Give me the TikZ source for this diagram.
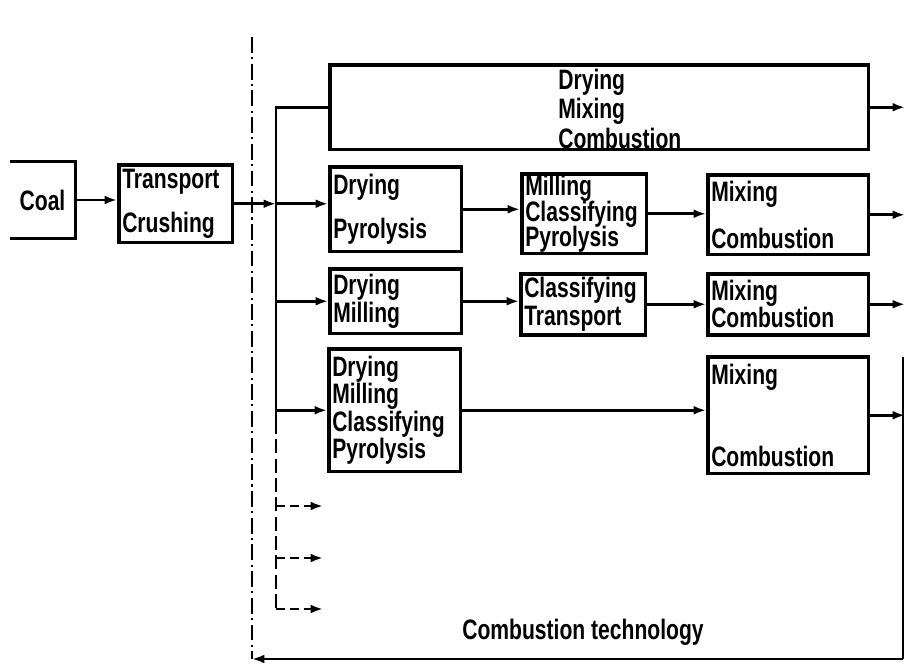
\documentclass[tikz,border=0pt]{standalone}
\usepackage{fontspec}
\setmainfont{Liberation Sans}[FakeStretch=0.75]
\usetikzlibrary{arrows.meta}

\tikzset{
  blk/.style={draw, line width=2pt, anchor=north west, align=left, inner xsep=0.07cm, inner ysep=0pt},
  conn/.style={line width=1.5pt},
  arr/.style={conn, -{Latex[length=7pt,width=5pt]}},
}

\begin{document}
\begin{tikzpicture}[x=0.02cm, y=-0.02cm, every node/.style={font=\fontsize{16pt}{15.5pt}\selectfont\bfseries}]
    \useasboundingbox (0,0) rectangle (906,665);

    % Coordinates (bus, outputs, boundary)
    \coordinate (busmid) at (276,420);
    \coordinate (busend) at (276,612);
    \coordinate (outx) at (905,0);
    \coordinate (fut1) at (323,506);
    \coordinate (fut2) at (323,558);
    \coordinate (fut3) at (323,609);
    \coordinate (bndtop) at (252,37);
    \coordinate (bndbot) at (252,659);
    \coordinate (bndbr) at (903,659);
    \coordinate (bndtr) at (903,357);

    % Nodes (Boxes)
    \node[minimum width=1.30cm, minimum height=1.52cm] (coal) at (42.5,200) {Coal};
    \draw[line width=2pt] (coal.north west) -- (coal.north east) -- (coal.south east) -- (coal.south west);

    \node[blk, text width=2.14cm, minimum height=1.56cm] (trans) at (117,163) {Transport\\[9.5pt]Crushing};

    \node[blk, minimum width=10.78cm, minimum height=1.70cm] (dmcbox) at (328,63) {};
    \node[align=left, inner sep=0pt, anchor=north west] (dmc) at (558,69) {Drying\\[1pt]Mixing\\[1.5pt]Combustion};

    \node[blk, text width=2.50cm, minimum height=1.70cm] (dp) at (328,165) {Drying\\[9pt]Pyrolysis};
    \node[blk, text width=2.36cm, minimum height=1.60cm] (mcp) at (520,172) {Milling\\[-0.8pt]Classifying\\[-0.8pt]Pyrolysis};
    \node[blk, text width=3.08cm, minimum height=1.60cm] (mc2) at (706,173) {Mixing\\[11pt]Combustion};

    \node[blk, text width=2.50cm, minimum height=1.30cm] (dm) at (328,267) {Drying\\Milling};
    \node[blk, text width=2.36cm, minimum height=1.22cm] (ct) at (519,272) {Classifying\\Transport};
    \node[blk, text width=3.08cm, minimum height=1.22cm] (mc3) at (706,272) {Mixing\\Combustion};

    \node[blk, text width=2.50cm, minimum height=2.46cm] (dmcp) at (327,347) {Drying\\Milling\\Classifying\\Pyrolysis};
    \node[blk, text width=3.08cm, minimum height=2.34cm] (mc4) at (706,355) {Mixing\\[31pt]Combustion};

    % Feed
    \draw[arr] (coal.east) -- (coal.east -| trans.west);
    \draw[arr] (trans.east) -- (trans.east -| busend);

    % Bus
    \draw[conn] (dmcbox.west) -| (busmid);
    \draw[conn, dash pattern=on 8pt off 3pt] (busmid) -- (busend);
    \draw[arr] (trans.east -| busend) -- (trans.east -| dp.west);
    \draw[arr] (dm.west -| busend) -- (dm.west);
    \draw[arr] (dmcp.west -| busend) -- (dmcp.west);

    % Future routes
    \draw[arr, dash pattern=on 5pt off 3pt] (fut1 -| busend) -- (fut1);
    \draw[arr, dash pattern=on 5pt off 3pt] (fut2 -| busend) -- (fut2);
    \draw[arr, dash pattern=on 5pt off 3pt] (fut3 -| busend) -- (fut3);

    % Edges between boxes
    \draw[arr] (dp.east) -- (dp.east -| mcp.west);
    \draw[arr] (mcp.east) -- (mcp.east -| mc2.west);
    \draw[arr] (dm.east) -- (dm.east -| ct.west);
    \draw[arr] (ct.east) -- (ct.east -| mc3.west);
    \draw[arr] (dmcp.east) -- (dmcp.east -| mc4.west);

    % Outputs
    \draw[arr] (dmcbox.east) -- (dmcbox.east -| outx);
    \draw[arr] (mc2.east) -- (mc2.east -| outx);
    \draw[arr] (mc3.east) -- (mc3.east -| outx);
    \draw[arr] (mc4.east) -- (mc4.east -| outx);

    % Boundary
    \draw[line width=1.3pt, dash pattern=on 9pt off 2.5pt on 1.2pt off 2.5pt] (bndtop) -- (bndbot);
    \draw[line width=0.7pt] (bndtr) -- (bndbr);
    \draw[arr] (bndbr) -- (bndbot);
    \node (ctech) at (583,632) {Combustion technology};

\end{tikzpicture}
\end{document}
